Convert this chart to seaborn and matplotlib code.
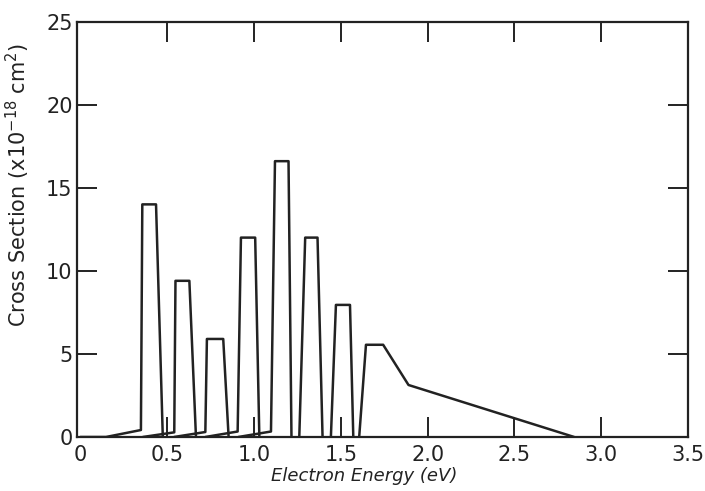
import matplotlib
matplotlib.use("Agg")
import matplotlib.pyplot as plt
import seaborn as sns
import pandas as pd

# Data (energy in eV, cross section in 1e-18 cm^2)
curve1_E = [0.0, 0.148, 0.349, 0.357, 0.436, 0.475]
curve1_S = [0.0, 0.0, 0.42, 14.0, 14.0, 0.0]
curve2_E = [0.36, 0.541, 0.548, 0.628, 0.666]
curve2_S = [0.0, 0.28, 9.4, 9.4, 0.0]
curve3_E = [0.54, 0.720, 0.729, 0.823, 0.854]
curve3_S = [0.0, 0.30, 5.9, 5.9, 0.0]
curve4_E = [0.72, 0.906, 0.925, 1.007, 1.031]
curve4_S = [0.0, 0.33, 12.0, 12.0, 0.0]
curve5_E = [0.91, 1.098, 1.121, 1.199, 1.216]
curve5_S = [0.0, 0.33, 16.6, 16.6, 0.0]
curve6_E = [1.261, 1.295, 1.366, 1.395]
curve6_S = [0.0, 12.0, 12.0, 0.0]
curve7_E = [1.443, 1.472, 1.553, 1.572]
curve7_S = [0.0, 7.95, 7.95, 0.0]
curve8_E = [1.606, 1.645, 1.744, 1.890, 2.844]
curve8_S = [0.0, 5.55, 5.55, 3.13, 0.0]

curves = [(curve1_E, curve1_S), (curve2_E, curve2_S), (curve3_E, curve3_S),
          (curve4_E, curve4_S), (curve5_E, curve5_S), (curve6_E, curve6_S),
          (curve7_E, curve7_S), (curve8_E, curve8_S)]

x_ticks = [0, 0.5, 1.0, 1.5, 2.0, 2.5, 3.0, 3.5]
x_tick_labels = ["0", "0.5", "1.0", "1.5", "2.0", "2.5", "3.0", "3.5"]
y_ticks = [0, 5, 10, 15, 20, 25]
y_tick_labels = ["0", "5", "10", "15", "20", "25"]

sns.set_theme(style="ticks")
plt.rcParams["font.family"] = ["DejaVu Sans"]
ink = "#222222"

fig = plt.figure(figsize=(7.05, 4.91), dpi=100)
ax = fig.add_axes([0.109, 0.110, 0.867, 0.846])

for i, (E, S) in enumerate(curves):
    df = pd.DataFrame({"E": E, "S": S})
    sns.lineplot(data=df, x="E", y="S", sort=False, estimator=None,
                 color=ink, linewidth=1.8, ax=ax)

ax.set_xlim(-0.02, 3.5)
ax.set_ylim(0, 25)
ax.set_xticks(x_ticks)
ax.set_xticklabels(x_tick_labels)
ax.set_yticks(y_ticks)
ax.set_yticklabels(y_tick_labels)

ax.tick_params(axis="both", which="both", direction="in", length=14.5,
               width=1.4, color=ink, labelcolor=ink, labelsize=15,
               top=True, right=True)
ax.tick_params(axis="x", pad=6)
ax.tick_params(axis="y", pad=3)
# ticks at the frame edges coincide with the spines
for t in (ax.xaxis.get_major_ticks()[0], ax.xaxis.get_major_ticks()[-1],
          ax.yaxis.get_major_ticks()[0], ax.yaxis.get_major_ticks()[-1]):
    t.tick1line.set_visible(False)
    t.tick2line.set_visible(False)
for sp in ax.spines.values():
    sp.set_visible(True)
    sp.set_color(ink)
    sp.set_linewidth(1.6)

ax.set_xlabel("Electron Energy (eV)", fontsize=13, style="italic", color=ink)
ax.xaxis.set_label_coords(0.47, -0.072)
ax.set_ylabel("Cross Section (x10$^{-18}$ cm$^{2}$)", fontsize=15, color=ink)
ax.yaxis.set_label_coords(-0.074, 0.608)

fig.savefig("out.png", dpi=100, facecolor="white")
